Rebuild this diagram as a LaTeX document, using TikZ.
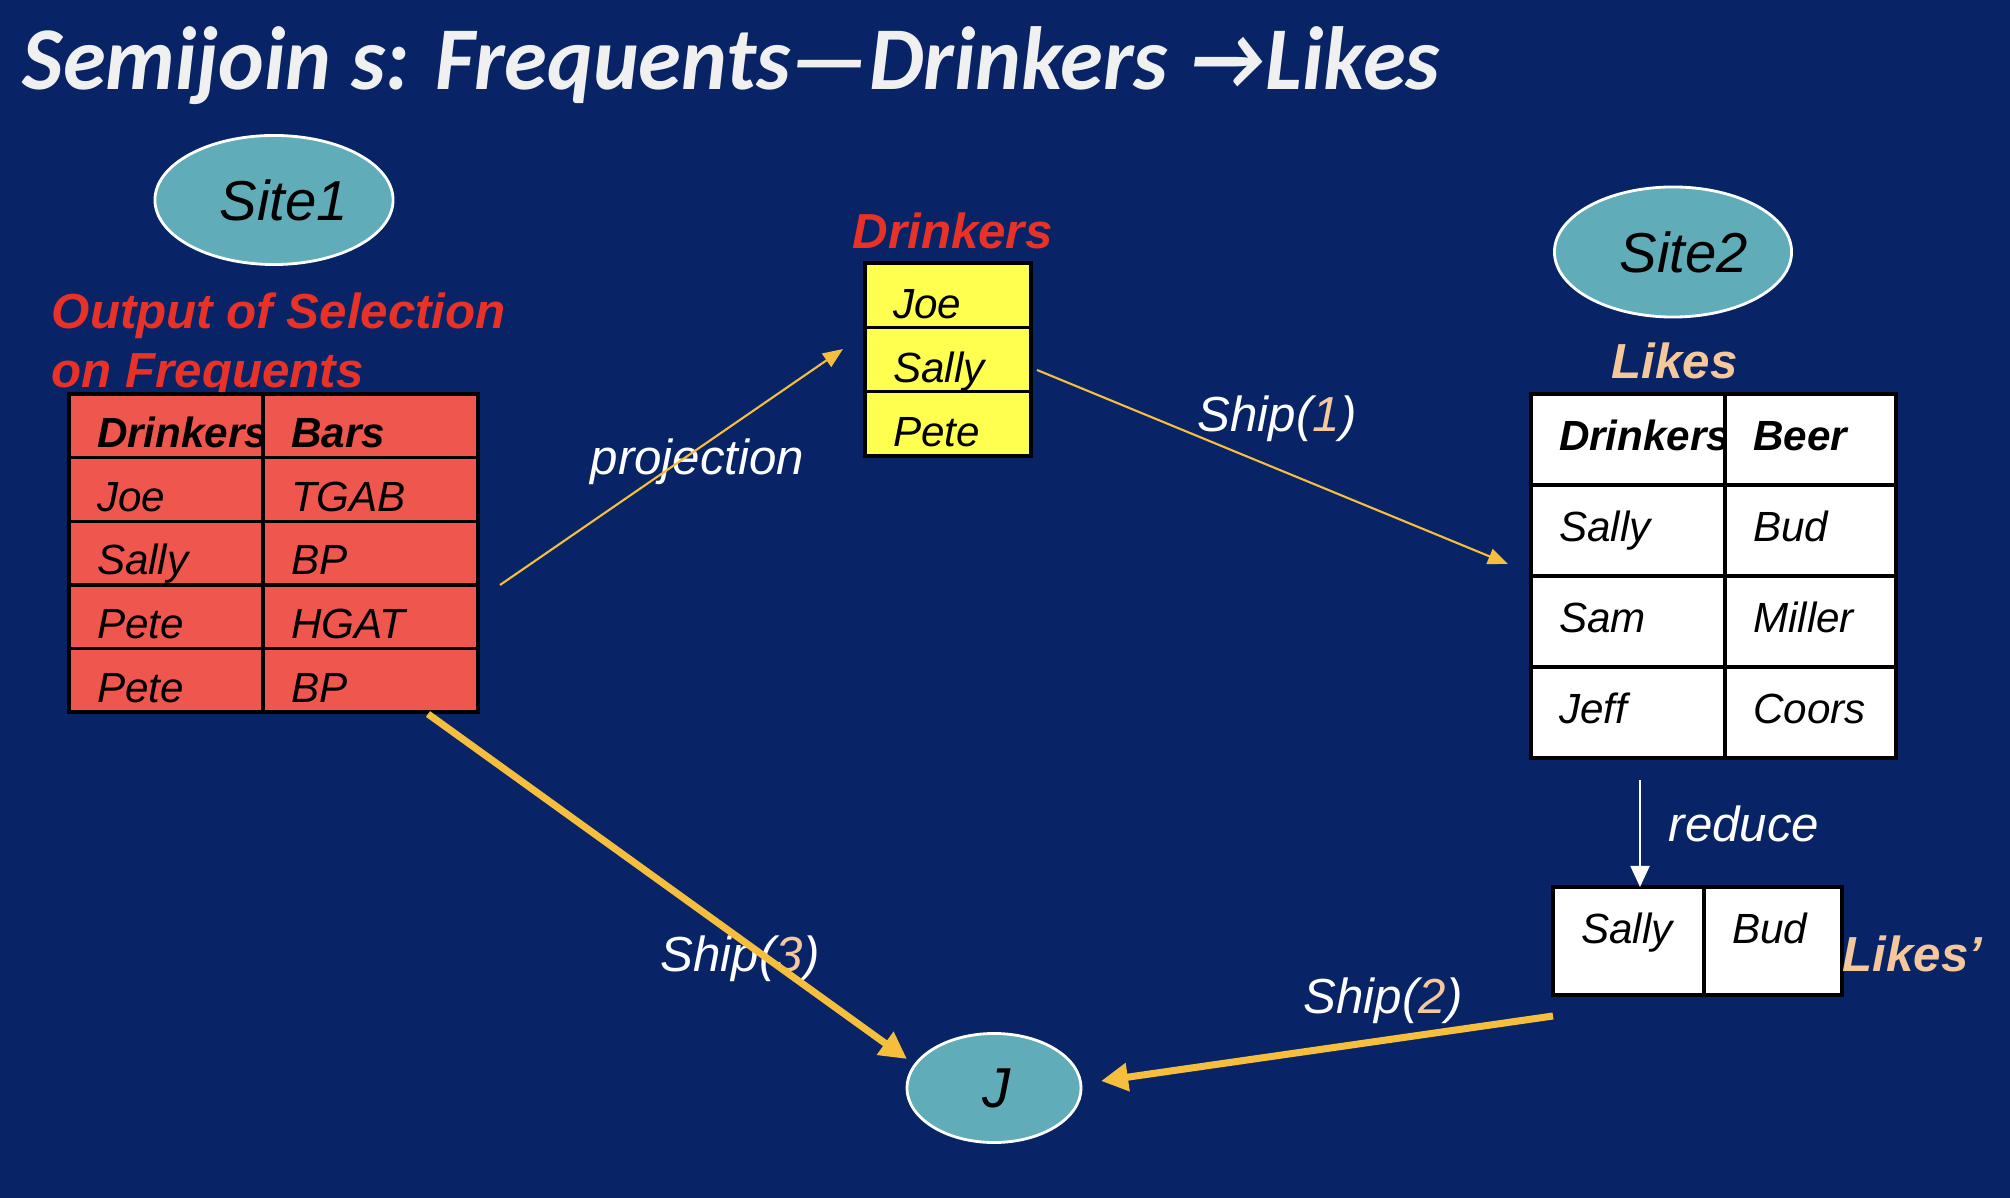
\documentclass[tikz,border=0pt]{standalone}
\usepackage{fontspec}
\setmainfont{Liberation Sans}
\newfontfamily\titlefont{Carlito}
\usetikzlibrary{positioning, shapes.geometric, arrows.meta}

\definecolor{bgnavy}{RGB}{8,36,103}
\definecolor{siteteal}{RGB}{96,172,185}
\definecolor{freqred}{RGB}{238,86,78}
\definecolor{drinkyellow}{RGB}{255,255,80}
\definecolor{labelred}{RGB}{232,50,40}
\definecolor{peach}{RGB}{245,200,155}
\definecolor{shipyellow}{RGB}{245,190,60}
\definecolor{titlewhite}{RGB}{240,240,240}

\begin{document}
\begin{tikzpicture}[x=0.01cm, y=-0.01cm]
    % Define styles
    \tikzstyle{site_oval}=[ellipse, draw=white, line width=0.8pt, fill=siteteal, inner sep=0pt, font=\fontsize{16}{18}\selectfont\itshape]
    \tikzstyle{cell}=[draw=black, line width=1pt, inner xsep=0.28cm, inner ysep=0pt, outer sep=0pt, align=left, font=\fontsize{12}{14}\selectfont\itshape]
    \tikzstyle{red_cell}=[cell, fill=freqred, text height=0.536cm, text depth=0.10cm]
    \tikzstyle{yellow_cell}=[cell, fill=drinkyellow, text width=1.10cm, text height=0.553cm, text depth=0.09cm]
    \tikzstyle{white_cell}=[cell, fill=white, text height=0.56cm, text depth=0.35cm]
    \tikzstyle{small_cell}=[cell, fill=white, text height=0.56cm, text depth=0.52cm]
    \tikzstyle{rel_label}=[inner sep=0pt, anchor=base west, font=\fontsize{14}{16}\selectfont\bfseries\itshape]
    \tikzstyle{arrow_label}=[inner sep=0pt, anchor=base west, text=white, font=\fontsize{14}{16}\selectfont\itshape]
    \tikzstyle{ship_thin}=[shipyellow, line width=0.6pt, -{Triangle[length=0.2cm, width=0.16cm]}]
    \tikzstyle{ship_thick}=[shipyellow, line width=2pt, -{Triangle[length=0.27cm, width=0.27cm]}]

    % Background and bounding box
    \fill[bgnavy] (0,0) rectangle (2010,1198);
    \useasboundingbox (0,0) rectangle (2010,1198);

    % --- 1. Title ---
    \node[inner sep=0pt, anchor=base west, text=titlewhite, font=\titlefont\fontsize{25.5}{28}\selectfont\bfseries\itshape] (title) at (22,90) {\scalebox{0.967}[1]{Semijoin s: Frequents—Drinkers →Likes}};

    % --- 2. Sites ---
    \node[site_oval, minimum width=2.38cm, minimum height=1.29cm] (site1) at (274,200) {\hspace*{0.2cm}Site1};
    \node[site_oval, minimum width=2.37cm, minimum height=1.30cm] (site2) at (1673,252) {\hspace*{0.22cm}Site2};
    \node[site_oval, minimum width=1.74cm, minimum height=1.09cm] (join) at (994,1088) {\hspace*{0.05cm}J};

    % --- 3. Output of selection on Frequents (Site1) ---
    \node[rel_label, text=labelred] (outlabA) at (51,329) {Output of Selection};
    \node[rel_label, text=labelred] (outlabB) at (51,388) {on Frequents};

    \node[red_cell, text width=1.38cm, anchor=north west] (fq11) at (69,394) {\bfseries\mbox{Drinkers}};
    \node[red_cell, text width=1.38cm, below=0pt of fq11] (fq21) {Joe};
    \node[red_cell, text width=1.38cm, below=0pt of fq21] (fq31) {Sally};
    \node[red_cell, text width=1.38cm, below=0pt of fq31] (fq41) {Pete};
    \node[red_cell, text width=1.38cm, below=0pt of fq41] (fq51) {Pete};
    \node[red_cell, text width=1.59cm, right=0pt of fq11] (fq12) {\bfseries Bars};
    \node[red_cell, text width=1.59cm, right=0pt of fq21] (fq22) {TGAB};
    \node[red_cell, text width=1.59cm, right=0pt of fq31] (fq32) {BP};
    \node[red_cell, text width=1.59cm, right=0pt of fq41] (fq42) {HGAT};
    \node[red_cell, text width=1.59cm, right=0pt of fq51] (fq52) {BP};

    % --- 4. Projection on Drinkers ---
    \node[rel_label, text=labelred] (drlab) at (852,249) {Drinkers};
    \node[yellow_cell, anchor=north west] (dr1) at (865,263) {Joe};
    \node[yellow_cell, below=0pt of dr1] (dr2) {Sally};
    \node[yellow_cell, below=0pt of dr2] (dr3) {Pete};

    % --- 5. Likes (Site2) ---
    \node[rel_label, text=peach] (lklab) at (1611,379) {Likes};
    \node[white_cell, text width=1.38cm, anchor=north west] (lk11) at (1531,394) {\bfseries\mbox{Drinkers}};
    \node[white_cell, text width=1.38cm, below=0pt of lk11] (lk21) {Sally};
    \node[white_cell, text width=1.38cm, below=0pt of lk21] (lk31) {Sam};
    \node[white_cell, text width=1.38cm, below=0pt of lk31] (lk41) {Jeff};
    \node[white_cell, text width=1.15cm, right=0pt of lk11] (lk12) {\bfseries Beer};
    \node[white_cell, text width=1.15cm, right=0pt of lk21] (lk22) {Bud};
    \node[white_cell, text width=1.15cm, right=0pt of lk31] (lk32) {Miller};
    \node[white_cell, text width=1.15cm, right=0pt of lk41] (lk42) {Coors};

    % --- 6. Reduced Likes' ---
    \node[small_cell, text width=0.95cm, anchor=north west] (lp1) at (1553,887) {Sally};
    \node[small_cell, text width=0.82cm, right=0pt of lp1] (lp2) {Bud};
    \node[rel_label, text=peach] (lplab) at (1842,971) {Likes’};

    % --- 7. Arrow labels ---
    \node[arrow_label] (projlab) at (590,475) {projection};
    \node[arrow_label] (ship1lab) at (1197,432) {Ship(\textcolor{peach}{1})};
    \node[arrow_label] (ship2lab) at (1303,1013) {Ship(\textcolor{peach}{2})};
    \node[arrow_label] (ship3lab) at (660,971) {Ship(\textcolor{peach}{3})};
    \node[arrow_label] (redlab) at (1668,841) {reduce};

    % --- 8. Connectors ---
    \coordinate (projA) at (500,585);
    \coordinate (projB) at (843,349);
    \coordinate (s1A) at (1037,370);
    \coordinate (s1B) at (1508,564);
    \coordinate (rdA) at (1640,780);
    \coordinate (rdB) at (1640,887);
    \coordinate (s2A) at (1553,1016);
    \coordinate (s2B) at (1101,1081);
    \coordinate (s3A) at (428,714);
    \coordinate (s3B) at (907,1059);

    \draw[ship_thin] (projA) -- (projB);
    \draw[ship_thin] (s1A) -- (s1B);
    \draw[white, line width=0.5pt, -{Triangle[length=0.21cm, width=0.19cm]}] (rdA) -- (rdB);
    \draw[ship_thick] (s2A) -- (s2B);
    \draw[ship_thick] (s3A) -- (s3B);

\end{tikzpicture}
\end{document}
